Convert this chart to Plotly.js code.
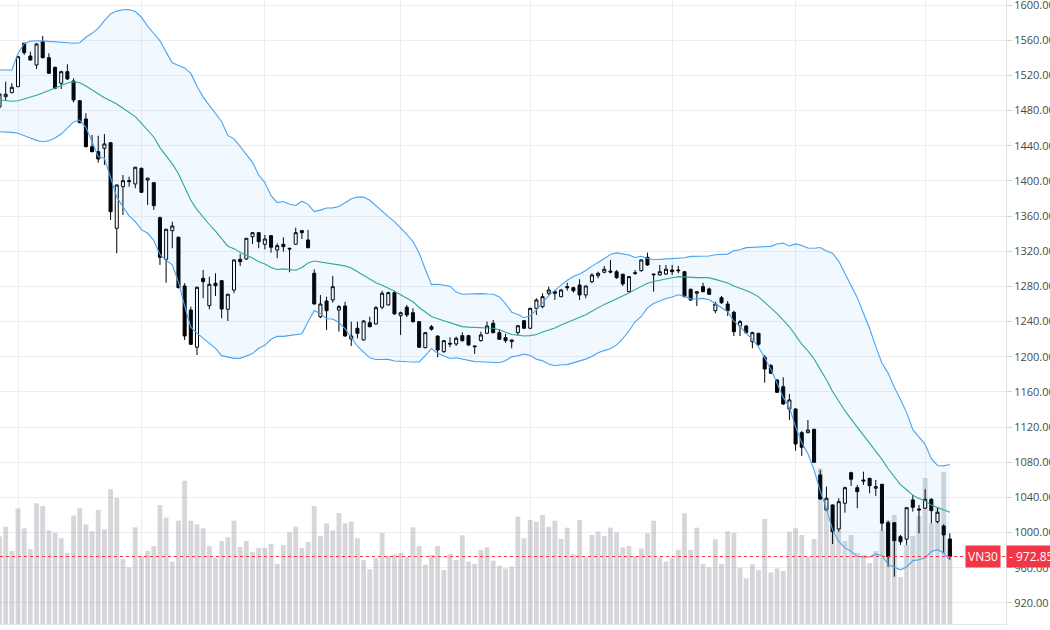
<!DOCTYPE html>
<html>
<head>
<meta charset="utf-8">
<script src="https://cdn.plot.ly/plotly-3.0.1.min.js"></script>
<style>html,body{margin:0;padding:0;background:#fff;}#chart{width:1050px;height:630px;}</style>
</head>
<body>
<div id="chart"></div>
<script>
// ---- Data (VN30 daily) ----
const opens = [1484.0,1495.7,1500.3,1507.1,1556.5,1542.0,1531.8,1558.3,1540.1,1529.2,1511.0,1524.2,1513.6,1491.2,1470.4,1438.9,1433.2,1437.1,1443.4,1346.1,
1393.4,1399.1,1396.5,1414.3,1401.0,1398.0,1358.2,1310.8,1343.4,1335.9,1280.5,1253.2,1210.8,1289.2,1258.1,1283.6,1286.5,1254.0,1275.9,1310.8,
1311.2,1336.5,1341.1,1327.9,1337.7,1321.4,1327.9,1323.4,1327.9,1343.4,1332.8,1294.9,1245.6,1263.4,1264.6,1253.2,1257.7,1220.2,1232.4,1219.1,
1238.8,1237.3,1256.3,1258.9,1272.9,1246.7,1256.3,1250.1,1239.9,1210.3,1234.2,1223.6,1205.8,1215.3,1214.5,1224.0,1224.0,1212.3,1218.3,1226.7,
1238.1,1227.4,1221.7,1217.2,1227.4,1241.0,1232.4,1255.1,1257.0,1272.2,1274.0,1268.3,1279.7,1278.6,1281.6,1270.3,1285.4,1292.2,1296.1,1297.5,
1296.7,1293.8,1274.0,1295.6,1297.9,1313.1,1294.1,1293.0,1294.1,1298.7,1298.7,1296.7,1276.7,1272.2,1279.7,1277.1,1252.4,1267.2,1260.0,1250.6,
1235.0,1235.0,1217.2,1226.7,1199.4,1189.9,1173.6,1166.0,1140.6,1140.6,1113.7,1113.7,1117.5,1065.6,1025.8,1031.5,1004.2,1033.4,1068.2,1051.1,
1059.9,1061.8,1050.5,1055.0,1011.3,1011.3,995.4,992.5,1037.2,1026.9,1027.7,1037.9,1012.5,1007.6,992.8];
const highs = [1501.1,1512.8,1511.0,1542.0,1557.1,1546.9,1556.8,1564.8,1545.1,1529.9,1525.3,1532.6,1516.7,1492.0,1476.9,1452.2,1451.4,1453.3,1444.0,1395.8,
1406.7,1404.8,1416.0,1415.0,1403.6,1398.5,1359.3,1345.5,1353.6,1336.6,1283.6,1257.0,1279.7,1298.7,1291.1,1294.9,1287.0,1271.5,1310.5,1316.9,
1335.0,1341.5,1341.5,1338.5,1338.0,1329.0,1335.9,1323.8,1346.8,1344.2,1344.2,1299.5,1270.3,1268.3,1291.9,1258.9,1262.6,1239.9,1239.9,1241.8,
1245.6,1257.7,1275.1,1274.0,1275.1,1251.3,1258.9,1255.1,1240.3,1228.2,1236.1,1224.0,1219.1,1222.2,1222.8,1227.8,1224.8,1212.6,1228.5,1239.9,
1241.8,1231.3,1225.9,1219.3,1236.1,1241.8,1255.5,1266.5,1272.2,1279.7,1275.9,1277.1,1284.2,1279.7,1288.1,1280.8,1294.9,1296.7,1303.2,1310.1,
1298.7,1294.5,1291.9,1298.7,1310.8,1318.4,1294.5,1304.4,1304.4,1304.4,1303.2,1297.5,1277.5,1274.4,1284.2,1278.6,1262.6,1269.1,1263.4,1252.4,
1241.8,1236.1,1228.5,1227.0,1202.0,1191.8,1174.4,1176.7,1157.7,1141.4,1115.6,1128.1,1118.0,1071.3,1052.3,1032.0,1039.1,1052.3,1069.3,1054.2,
1069.3,1062.2,1059.9,1055.3,1013.3,1011.8,997.3,1028.8,1042.8,1031.5,1049.3,1039.1,1028.4,1009.5,999.3];
const lows = [1480.6,1492.0,1499.6,1506.8,1543.2,1536.7,1527.2,1539.4,1521.6,1504.2,1504.5,1514.7,1489.4,1465.5,1438.2,1432.5,1420.7,1418.1,1355.5,1317.7,
1361.2,1393.4,1391.6,1386.5,1372.6,1366.9,1304.4,1284.2,1323.4,1277.8,1219.1,1213.4,1202.0,1266.5,1254.0,1269.1,1243.8,1240.7,1272.2,1303.2,
1310.1,1328.2,1323.4,1322.2,1318.4,1312.0,1319.5,1296.1,1327.5,1333.9,1323.5,1259.5,1243.8,1230.5,1261.5,1228.5,1222.8,1212.3,1221.0,1218.3,
1233.5,1236.8,1254.0,1258.5,1247.9,1224.8,1244.9,1238.8,1210.4,1209.6,1229.7,1199.4,1204.6,1210.8,1212.3,1217.2,1212.3,1203.2,1217.2,1225.9,
1226.7,1219.1,1216.0,1209.6,1224.8,1231.6,1231.3,1247.5,1255.1,1270.3,1264.6,1267.6,1275.1,1272.9,1264.6,1266.5,1283.6,1289.2,1294.9,1294.9,
1288.5,1280.5,1273.3,1293.0,1296.7,1303.2,1274.0,1292.2,1293.3,1293.0,1294.9,1267.6,1263.4,1257.7,1273.3,1270.3,1249.4,1260.0,1246.4,1223.6,
1223.6,1225.9,1209.6,1212.6,1170.5,1180.4,1158.8,1145.2,1128.1,1093.2,1087.2,1113.0,1079.2,1037.2,1025.0,987.1,1001.1,1022.7,1053.1,1027.7,
1054.2,1044.8,1041.7,1002.2,961.3,949.9,986.0,986.0,1023.9,999.3,1026.9,1010.7,1010.7,976.5,968.9];
const closes = [1498.8,1498.5,1506.4,1541.2,1545.8,1537.5,1555.7,1540.1,1522.4,1505.3,1524.2,1515.9,1492.0,1466.2,1438.9,1433.2,1424.9,1442.0,1365.0,1395.3,
1400.2,1400.2,1415.5,1387.0,1403.0,1371.8,1313.1,1345.0,1348.7,1278.6,1223.6,1214.2,1279.0,1285.4,1282.4,1280.8,1254.3,1271.1,1310.1,1308.1,
1334.7,1341.1,1330.9,1333.9,1324.5,1326.3,1325.2,1322.6,1341.1,1341.1,1324.0,1260.0,1260.0,1252.4,1279.7,1257.0,1223.6,1223.6,1226.7,1240.7,
1234.2,1255.8,1272.2,1272.9,1248.7,1250.1,1247.5,1239.9,1210.8,1227.4,1231.3,1207.7,1218.3,1214.5,1221.0,1218.3,1213.4,1211.5,1224.8,1235.0,
1227.4,1219.9,1218.3,1219.1,1235.3,1232.4,1255.1,1264.6,1268.3,1275.9,1272.2,1275.9,1278.6,1275.1,1270.3,1280.5,1293.0,1294.9,1299.5,1296.4,
1289.9,1282.8,1291.1,1294.9,1310.1,1304.4,1293.3,1296.7,1299.5,1296.7,1297.9,1268.3,1264.6,1274.0,1274.0,1271.0,1260.0,1261.5,1252.4,1228.5,
1239.9,1227.4,1227.4,1214.2,1186.1,1181.2,1159.6,1146.3,1150.9,1100.8,1097.1,1116.7,1080.0,1038.3,1039.1,1001.1,1035.2,1051.1,1060.7,1046.6,
1058.7,1053.4,1052.3,1010.7,972.7,990.9,989.7,1028.4,1028.8,1025.8,1037.9,1025.0,1023.2,997.4,972.85];
// trading volume (million shares)
const volumes = [140,155.7,116.8,185.1,153.1,120.0,193.1,188.8,149.9,146.1,137.1,113.6,173.3,185.1,159.5,148.3,182.4,151.5,215.5,201.6,
104.0,90.7,154.7,108.8,116.8,124.8,190.4,170.1,99.7,165.3,229.3,165.3,159.5,153.1,124.8,106.1,132.8,138.7,165.3,123.2,
132.8,115.2,121.6,121.6,128.0,96.5,126.4,146.7,155.7,121.6,131.2,188.8,140.8,161.1,149.9,177.6,161.1,163.7,137.1,102.4,
87.5,105.6,145.6,108.8,111.5,113.6,107.2,154.7,124.8,94.9,110.4,124.8,86.4,112.0,102.4,141.9,99.7,96.5,118.4,122.7,
101.3,93.3,89.1,91.7,171.7,137.1,166.4,163.7,174.4,155.7,165.3,136.0,154.1,111.5,166.4,106.7,142.4,147.7,140.8,154.1,
146.7,122.7,124.8,108.8,121.1,145.1,165.3,106.7,99.7,105.1,118.4,177.1,118.4,154.1,96.0,90.7,135.5,96.0,148.3,146.1,
90.1,73.1,95.5,86.4,168.0,82.7,89.1,84.8,147.7,153.1,142.4,107.7,136.0,249.1,195.2,182.4,166.4,132.8,142.4,113.6,
110.4,97.6,116.8,150.4,166.4,174.4,75.2,126.4,140.8,172.8,233.6,161.6,187.2,243.2,118.4];
// Bollinger band values read for the first 19 sessions (earlier closes are off-screen)
const bbUpperHead = [1526.1,1526.1,1526.1,1545.0,1556.0,1559.1,1559.4,1559.4,1558.7,1558.3,1558.0,1557.1,1556.5,1557.1,1563.3,1567.8,1573.5,1582.2,1589.8];
const bbMidHead   = [1492.0,1491.2,1490.5,1491.2,1493.1,1495.0,1497.3,1500.0,1502.6,1505.6,1508.7,1511.3,1512.8,1511.7,1507.9,1503.4,1498.4,1494.5,1491.0];
const bbLowerHead = [1455.9,1455.6,1455.2,1454.1,1451.8,1448.8,1446.1,1444.6,1445.7,1448.8,1453.3,1459.8,1467.0,1469.2,1460.9,1444.6,1427.5,1425.7,1404.8];
// first trading session of each month (vertical grid lines)
const monthStarts = [3,23,43,65,86,109,129,150];
const lastPrice = 972.85;
const seriesName = 'VN30';

// ---- Bollinger Bands (20, 2) ----
const period = 20, mult = 2;
const idx = closes.map((_, i) => i);
const bbUpper = [], bbMid = [], bbLower = [];
for (let i = 0; i < closes.length; i++) {
  if (i < period - 1) {
    bbUpper.push(bbUpperHead[i]); bbMid.push(bbMidHead[i]); bbLower.push(bbLowerHead[i]);
    continue;
  }
  const w = closes.slice(i - period + 1, i + 1);
  const m = w.reduce((a, b) => a + b, 0) / period;
  const sd = Math.sqrt(w.reduce((a, b) => a + (b - m) * (b - m), 0) / period);
  bbMid.push(m); bbUpper.push(m + mult * sd); bbLower.push(m - mult * sd);
}

const FONT = 'Open Sans, Roboto, sans-serif';
const RED = '#f23645';

const traces = [
  {type: 'bar', x: idx, y: volumes, xaxis: 'x', yaxis: 'y',
   marker: {color: 'rgba(120,123,134,0.30)', line: {width: 0}}, hoverinfo: 'skip'},
  {type: 'scatter', mode: 'lines', x: idx, y: bbLower, xaxis: 'x', yaxis: 'y2',
   line: {color: '#4aa3f0', width: 1.1}, hoverinfo: 'skip'},
  {type: 'scatter', mode: 'lines', x: idx, y: bbUpper, xaxis: 'x', yaxis: 'y2',
   line: {color: '#4aa3f0', width: 1.1}, fill: 'tonexty', fillcolor: 'rgba(33,150,243,0.06)', hoverinfo: 'skip'},
  {type: 'scatter', mode: 'lines', x: idx, y: bbMid, xaxis: 'x', yaxis: 'y2',
   line: {color: '#2fa98f', width: 1.1}, hoverinfo: 'skip'},
  {type: 'candlestick', x: idx, open: opens, high: highs, low: lows, close: closes,
   xaxis: 'x', yaxis: 'y2', name: seriesName,
   increasing: {line: {color: '#000000', width: 1}, fillcolor: '#ffffff'},
   decreasing: {line: {color: '#000000', width: 1}, fillcolor: '#000000'},
   whiskerwidth: 0}
];

const layout = {
  width: 1050, height: 630,
  margin: {l: 0, r: 44, t: 0, b: 6, pad: 0},
  paper_bgcolor: '#ffffff', plot_bgcolor: '#ffffff',
  showlegend: false,
  bargap: 0.22,
  font: {family: FONT, size: 11, color: '#4a4a4a'},
  xaxis: {range: [0.08, 163.1], tickvals: monthStarts, showticklabels: false, ticks: '',
          showgrid: true, gridcolor: '#ececf1', gridwidth: 1, zeroline: false,
          showline: true, linecolor: '#e3e5ec', rangeslider: {visible: false}, fixedrange: true},
  yaxis: {range: [0, 998.4], visible: false, showgrid: false, zeroline: false, fixedrange: true},
  yaxis2: {overlaying: 'y', side: 'right', range: [896.1, 1605.7], tick0: 0, dtick: 40,
           tickformat: '.2f', showgrid: true, gridcolor: '#ececf1', gridwidth: 1, zeroline: false,
           showline: true, linecolor: '#e3e5ec', ticks: 'outside', ticklen: 5, tickcolor: '#cfd2da',
           ticklabeloverflow: 'allow',
           tickfont: {family: FONT, size: 11, color: '#4a4a4a'}, fixedrange: true},
  shapes: [
    {type: 'line', xref: 'paper', x0: 0, x1: 1, yref: 'y2', y0: lastPrice, y1: lastPrice,
     line: {color: RED, width: 1, dash: 'dot'}, layer: 'above'}
  ],
  annotations: [
    {xref: 'paper', x: 0.9955, xanchor: 'right', yref: 'y2', y: lastPrice, yanchor: 'middle',
     text: seriesName, showarrow: false, bgcolor: RED, borderpad: 2,
     font: {family: FONT, size: 12, color: '#ffffff'}},
    {xref: 'paper', x: 1, xanchor: 'left', xshift: 0, yref: 'y2', y: lastPrice, yanchor: 'middle',
     text: '- ' + lastPrice.toFixed(2), showarrow: false, bgcolor: RED, borderpad: 2,
     font: {family: FONT, size: 12, color: '#ffffff'}}
  ]
};

Plotly.newPlot('chart', traces, layout, {displayModeBar: false, staticPlot: true});
</script>
</body>
</html>
